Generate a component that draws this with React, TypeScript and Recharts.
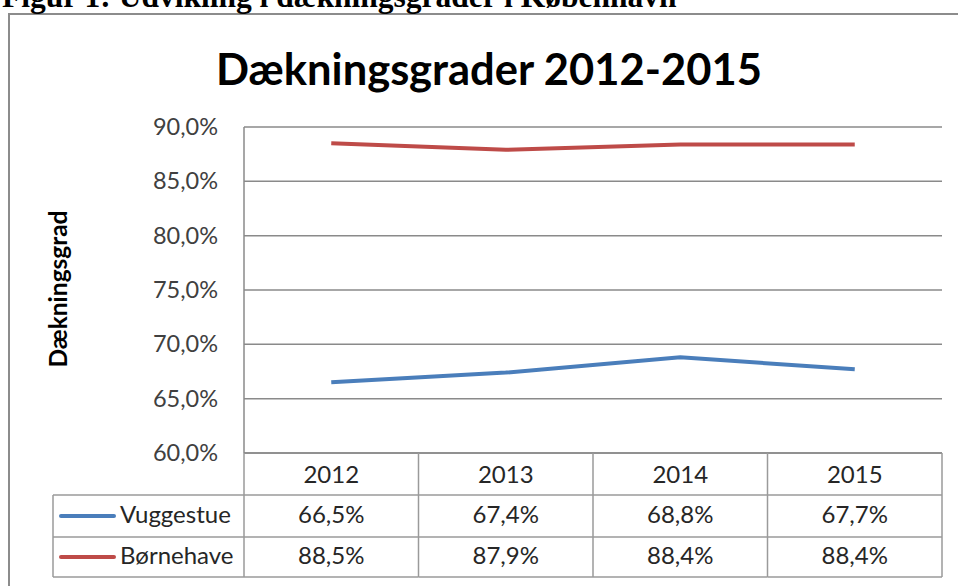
import React from 'react';
import { ComposedChart, Line, XAxis, YAxis, CartesianGrid } from 'recharts';

const years = ['2012', '2013', '2014', '2015'];
const vuggestue = [66.5, 67.4, 68.8, 67.7];
const boernehave = [88.5, 87.9, 88.4, 88.4];
const yTicks = [60, 65, 70, 75, 80, 85, 90];

const seriesInfo = [
  { key: 'vuggestue', name: 'Vuggestue', color: '#4A7EBB', values: vuggestue },
  { key: 'boernehave', name: 'Børnehave', color: '#BE4B48', values: boernehave },
];

const data = years.map((y, i) => ({ year: y, vuggestue: vuggestue[i], boernehave: boernehave[i] }));

const W = 958;
const H = 586;
const MARGIN = { top: 127, right: 16, left: 0, bottom: 0 };
const YAXIS_W = 244;
const XAXIS_H = 133;
const PLOT_LEFT = MARGIN.left + YAXIS_W;
const PLOT_RIGHT = W - MARGIN.right;
const COL_W = (PLOT_RIGHT - PLOT_LEFT) / years.length;
const PLOT_BOTTOM = H - MARGIN.bottom - XAXIS_H;
const ROW_LINES = [495, 537, 577];
const ROW_BASE = [483, 523, 564];
const LEGEND_LEFT = 53;
const GRID = '#8a8a8a';
const TABLE_LINE = '#9a9a9a';
const FONT = 'Lato, "Open Sans", sans-serif';
const TXT = '#262626';
const TICK_FS = 23.5;
const TABLE_FS = 24;

const fmt = (v: number) => v.toFixed(1).replace('.', ',') + '%';

const YTick = (props: any) => {
  const { y, payload } = props;
  return (
    <text x={218} y={y + 8} textAnchor="end" fontFamily={FONT} fontSize={TICK_FS} fill="#404040">
      {fmt(payload.value)}
    </text>
  );
};

const XTick = (props: any) => {
  const { x, payload, index } = props;
  const l = x - COL_W / 2;
  const r = x + COL_W / 2;
  return (
    <g>
      <line x1={r} y1={PLOT_BOTTOM} x2={r} y2={ROW_LINES[2]} stroke={TABLE_LINE} strokeWidth={1.5} />
      {ROW_LINES.map((ly) => (
        <line key={ly} x1={l} y1={ly} x2={r} y2={ly} stroke={TABLE_LINE} strokeWidth={1.5} />
      ))}
      <text x={x} y={ROW_BASE[0]} textAnchor="middle" fontFamily={FONT} fontSize={TABLE_FS} fill={TXT}>
        {payload.value}
      </text>
      {seriesInfo.map((s, si) => (
        <text key={s.key} x={x} y={ROW_BASE[si + 1]} textAnchor="middle" fontFamily={FONT} fontSize={TABLE_FS} fill={TXT}>
          {fmt(s.values[index])}
        </text>
      ))}
      {index === 0 && (
        <g>
          <line x1={l} y1={PLOT_BOTTOM} x2={l} y2={ROW_LINES[2]} stroke={TABLE_LINE} strokeWidth={1.5} />
          <line x1={LEGEND_LEFT} y1={ROW_LINES[0]} x2={LEGEND_LEFT} y2={ROW_LINES[2]} stroke={TABLE_LINE} strokeWidth={1.5} />
          {ROW_LINES.map((ly) => (
            <line key={'lg' + ly} x1={LEGEND_LEFT} y1={ly} x2={l} y2={ly} stroke={TABLE_LINE} strokeWidth={1.5} />
          ))}
          {seriesInfo.map((s, si) => {
            const cy = (ROW_LINES[si] + ROW_LINES[si + 1]) / 2;
            return (
              <g key={'leg' + s.key}>
                <line x1={61} y1={cy} x2={114} y2={cy} stroke={s.color} strokeWidth={4} strokeLinecap="round" />
                <text x={120} y={ROW_BASE[si + 1]} fontFamily={FONT} fontSize={TABLE_FS} fill={TXT}>
                  {s.name}
                </text>
              </g>
            );
          })}
        </g>
      )}
    </g>
  );
};

export default function App() {
  return (
    <div style={{ position: 'absolute', left: 0, top: 0, width: W, height: H, overflow: 'hidden', background: '#fff' }}>
      <div
        style={{
          position: 'absolute',
          left: 8,
          top: 13,
          width: 1200,
          height: 1200,
          border: '2px solid #8c8c8c',
          boxSizing: 'border-box',
        }}
      />
      <svg width={W} height={H} style={{ position: 'absolute', left: 0, top: 0 }}>
        <text x={2} y={7} fontFamily='"Liberation Serif", "Times New Roman", serif' fontWeight="bold" fontSize={31.5} fill="#000">
          Figur 1: Udvikling i dækningsgrader i København
        </text>
      </svg>
      <div style={{ position: 'absolute', left: 0, top: 0 }}>
        <ComposedChart width={W} height={H} data={data} margin={MARGIN}>
          <CartesianGrid vertical={false} stroke={GRID} strokeWidth={1.5} />
          <XAxis
            dataKey="year"
            scale="band"
            height={XAXIS_H}
            axisLine={{ stroke: GRID, strokeWidth: 1.5 }}
            tickLine={false}
            tick={(p: any) => <XTick {...p} />}
            interval={0}
          />
          <YAxis
            width={YAXIS_W}
            domain={[60, 90]}
            ticks={yTicks}
            axisLine={{ stroke: GRID, strokeWidth: 1.5 }}
            tickLine={false}
            tick={(p: any) => <YTick {...p} />}
            interval={0}
          />
          {seriesInfo.map((s) => (
            <Line
              key={s.key}
              dataKey={s.key}
              name={s.name}
              stroke={s.color}
              strokeWidth={4}
              type="linear"
              dot={false}
              activeDot={false}
              isAnimationActive={false}
            />
          ))}
        </ComposedChart>
      </div>
      <svg width={W} height={H} style={{ position: 'absolute', left: 0, top: 0, pointerEvents: 'none' }}>
        <text x={489} y={85} textAnchor="middle" fontFamily={FONT} fontWeight="bold" fontSize={43.5} fill="#000">
          Dækningsgrader 2012-2015
        </text>
        <text
          x={0}
          y={0}
          transform="translate(67 289) rotate(-90)"
          textAnchor="middle"
          fontFamily={FONT}
          fontWeight="bold"
          fontSize={24.5}
          fill="#000"
        >
          Dækningsgrad
        </text>
      </svg>
    </div>
  );
}
